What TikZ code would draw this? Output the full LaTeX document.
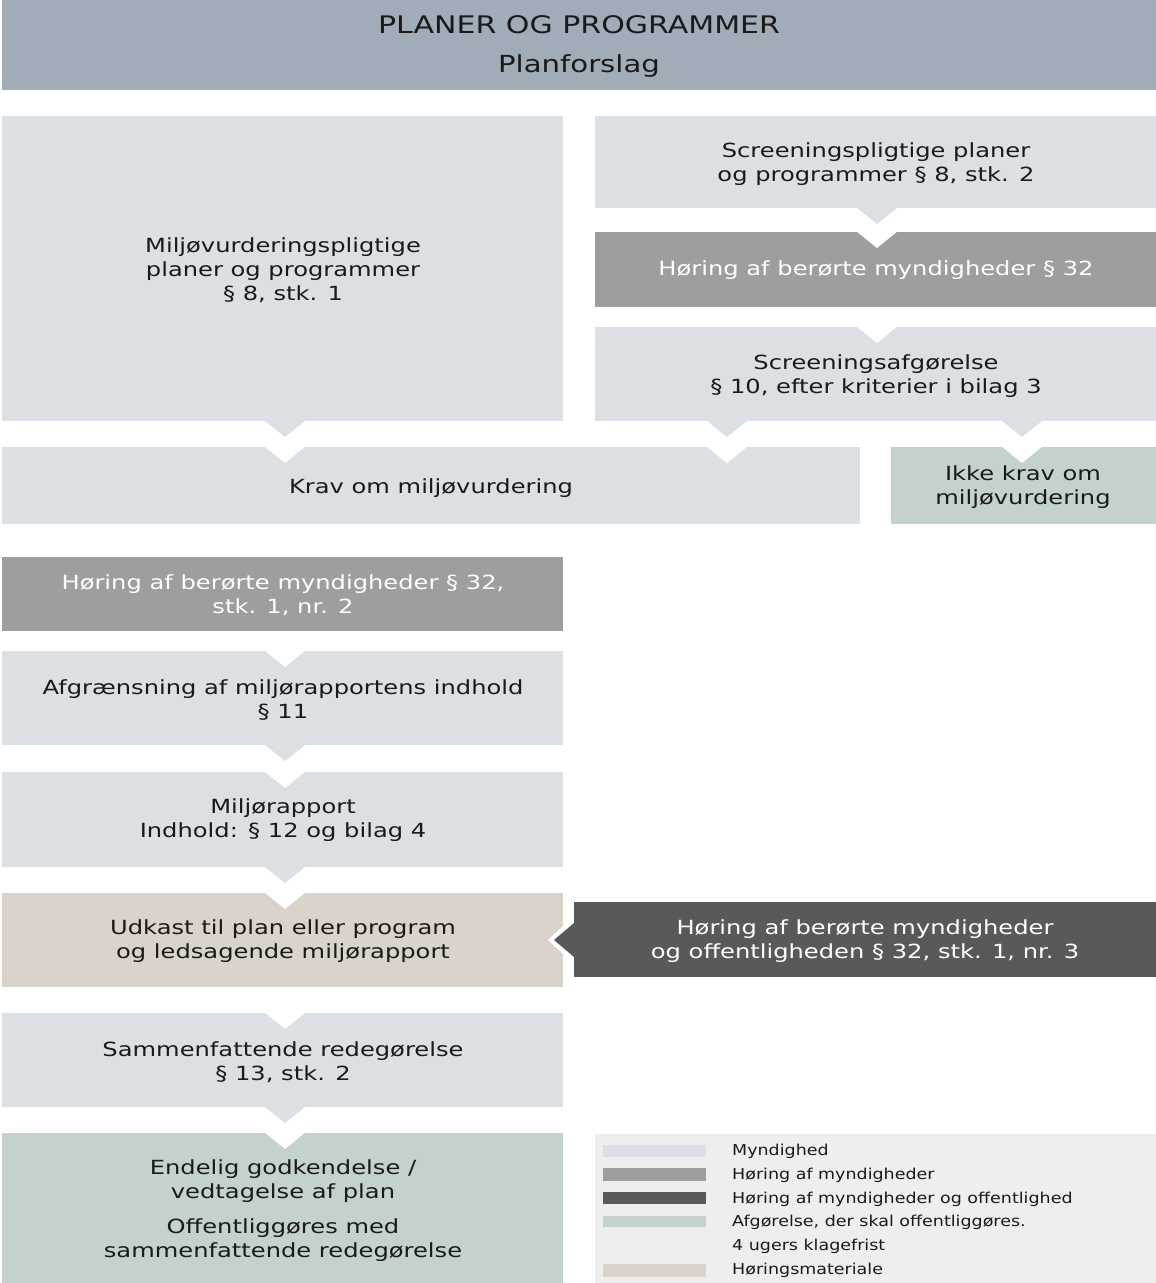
\documentclass[tikz,border=0pt]{standalone}
\usepackage{fontspec}
\setmainfont[FakeStretch=1.24]{DejaVu Sans}
\newfontfamily\legfont[FakeStretch=1.165]{DejaVu Sans}
\definecolor{hoved}{HTML}{A1ACB9}
\definecolor{myn}{HTML}{DCE0E4}
\definecolor{hoer}{HTML}{9E9E9E}
\definecolor{offl}{HTML}{595959}
\definecolor{afg}{HTML}{C3D3CC}
\definecolor{mat}{HTML}{D9D3CC}
\definecolor{legbg}{HTML}{EEEEEE}
\definecolor{skrift}{HTML}{1A1A1A}
\newcommand{\pil}[3]{\fill[#1] (#2-20,#3) -- (#2,#3+16) -- (#2+20,#3) -- cycle;}
\newcommand{\hak}[2]{\fill[white] (#1-21,#2-1) -- (#1,#2+16) -- (#1+21,#2-1) -- cycle;}

\begin{document}
\begin{tikzpicture}[x=1pt,y=-1pt]
      \tikzstyle{every node}+=[inner sep=0pt]
      \tikzstyle{tekst}=[align=center,text=skrift,font=\fontsize{19.5}{24}\selectfont]
      \tikzstyle{hvid}=[tekst,text=white]
      \tikzstyle{leg}=[anchor=west,text=skrift,font=\legfont\fontsize{15}{24}\selectfont]
      \useasboundingbox (0,0) rectangle (1156,1283);
      % top
      \fill[hoved] (2,0) rectangle (1156,90);
      \node[tekst,font=\fontsize{24.2}{24}\selectfont] (titel) at (579,25) {PLANER OG PROGRAMMER};
      \node[tekst,font=\fontsize{23.5}{24}\selectfont] (forslag) at (579,66) {Planforslag};
      % boxes
      \fill[myn] (2,116) rectangle (563,421);
      \fill[myn] (595,116) rectangle (1156,208);
      \fill[hoer] (595,232) rectangle (1156,307);
      \fill[myn] (595,327) rectangle (1156,421);
      \fill[myn] (2,447) rectangle (860,524);
      \fill[afg] (891,447) rectangle (1156,524);
      \fill[hoer] (2,557) rectangle (563,631);
      \fill[myn] (2,651) rectangle (563,745);
      \fill[myn] (2,772) rectangle (563,867);
      \fill[mat] (2,893) rectangle (563,987);
      \fill[offl] (574,902) rectangle (1156,977);
      \fill[myn] (2,1013) rectangle (563,1107);
      \fill[afg] (2,1133) rectangle (563,1283);
      \fill[legbg] (595,1134) rectangle (1156,1283);
      % notches
      \hak{877}{232}
      \hak{877}{327}
      \hak{285}{447}
      \hak{727}{447}
      \hak{1022}{447}
      \hak{285}{651}
      \hak{285}{772}
      \hak{285}{893}
      \hak{285}{1013}
      \hak{285}{1133}
      \fill[white] (564,925) -- (548,940) -- (564,955) -- cycle;
      % pointers
      \pil{myn}{285}{421}
      \pil{myn}{877}{208}
      \pil{myn}{727}{421}
      \pil{myn}{1022}{421}
      \pil{myn}{285}{745}
      \pil{myn}{285}{867}
      \pil{myn}{285}{1107}
      \fill[offl] (574,923) -- (554,940) -- (574,957) -- cycle;
      % texts
      \node[tekst] (mvp) at (283,270) {Miljøvurderingspligtige\\planer og programmer\\§ 8, stk. 1};
      \node[tekst] (scr) at (876,164) {Screeningspligtige planer\\og programmer § 8, stk. 2};
      \node[hvid] (hoer1) at (876,270) {Høring af berørte myndigheder § 32};
      \node[tekst] (scrafg) at (876,376) {Screeningsafgørelse\\§ 10, efter kriterier i bilag 3};
      \node[tekst] (krav) at (431,488) {Krav om miljøvurdering};
      \node[tekst] (ikke) at (1023,487) {Ikke krav om\\miljøvurdering};
      \node[hvid] (hoer2) at (283,595) {Høring af berørte myndigheder § 32,\\stk. 1, nr. 2};
      \node[tekst] (afgr) at (283,700) {Afgrænsning af miljørapportens indhold\\§ 11};
      \node[tekst] (rapport) at (283,820) {Miljørapport\\Indhold: § 12 og bilag 4};
      \node[tekst] (udkast) at (283,941) {Udkast til plan eller program\\og ledsagende miljørapport};
      \node[hvid] (hoer3) at (865,941) {Høring af berørte myndigheder\\og offentligheden § 32, stk. 1, nr. 3};
      \node[tekst] (samm) at (283,1062) {Sammenfattende redegørelse\\§ 13, stk. 2};
      \node[tekst] (endelig) at (283,1181) {Endelig godkendelse /\\vedtagelse af plan};
      \node[tekst] (offl) at (283,1240) {Offentliggøres med\\sammenfattende redegørelse};
      % legend
      \fill[myn] (603,1145) rectangle (706,1157);
      \fill[hoer] (603,1168) rectangle (706,1181);
      \fill[offl] (603,1192) rectangle (706,1204);
      \fill[afg] (603,1216) rectangle (706,1227);
      \fill[mat] (603,1264) rectangle (706,1277);
      \node[leg] (l1) at (732,1151) {Myndighed};
      \node[leg] (l2) at (732,1175) {Høring af myndigheder};
      \node[leg] (l3) at (732,1199) {Høring af myndigheder og offentlighed};
      \node[leg] (l4) at (732,1222) {Afgørelse, der skal offentliggøres.};
      \node[leg] (l5) at (732,1246) {4 ugers klagefrist};
      \node[leg] (l6) at (732,1270) {Høringsmateriale};
\end{tikzpicture}
\end{document}
